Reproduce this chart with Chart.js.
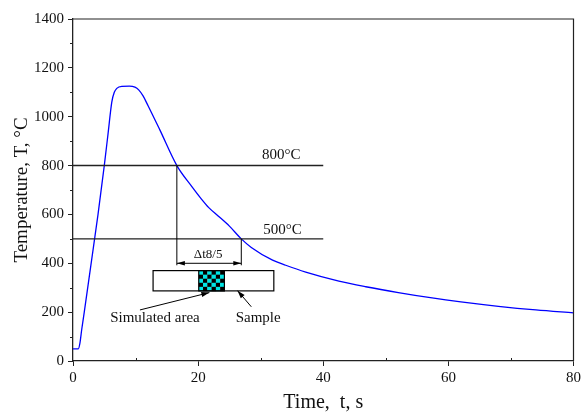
<!DOCTYPE html>
<html><head><meta charset="utf-8">
<script src="https://cdn.jsdelivr.net/npm/chart.js@4.4.0/dist/chart.umd.min.js"></script>
<style>html,body{margin:0;padding:0;background:#fff}</style>
</head><body>
<canvas id="c" width="584" height="420"></canvas>
<script>
// ---- data ----
const times = [0, 0.85, 1.1, 1.4, 1.8, 2.9, 4.0, 5.0, 5.6, 6.2, 6.6, 7.0, 7.8, 9.0, 9.9, 10.5, 11.2, 12.0, 13.9, 16.6, 19.0, 20.5, 21.7, 23.2, 25.0, 26.9, 28.5, 31.9, 34.0, 37.2, 42.5, 46.8, 52.0, 57.4, 62.0, 68.0, 74.0, 80.0];
const temps = [50, 50, 72, 130, 200, 400, 600, 800, 930, 1060, 1100, 1116, 1124, 1125, 1121, 1110, 1085, 1045, 945, 800, 714, 664, 628, 594, 552, 500, 465, 413, 392, 364, 327, 304, 280, 258, 242, 224, 209, 197];
const levels = [800, 500];
const levelLabels = ['800°C', '500°C'];
const crossTimes = [16.6, 26.9];
const deltaLabel = 'Δt8/5';
const sampleLabels = ['Simulated area', 'Sample'];

const FONT = "'Liberation Serif', 'Times New Roman', serif";

const annot = {
  id: 'annot',
  afterDatasetsDraw(chart) {
    const {ctx, scales: {x, y}, chartArea: a} = chart;
    const X = v => x.getPixelForValue(v), Y = v => y.getPixelForValue(v);
    ctx.save();
    // frame top & right
    ctx.strokeStyle = '#222'; ctx.lineWidth = 1.2;
    ctx.beginPath(); ctx.moveTo(a.left, a.top); ctx.lineTo(a.right, a.top); ctx.lineTo(a.right, a.bottom); ctx.stroke();
    // minor ticks
    ctx.lineWidth = 1;
    ctx.beginPath();
    for (let v = 100; v < 1400; v += 200) { const py = Math.round(Y(v)) + 0.5; ctx.moveTo(a.left - 3, py); ctx.lineTo(a.left, py); }
    for (let v = 10; v < 80; v += 20) { const px = Math.round(X(v)) + 0.5; ctx.moveTo(px, a.bottom); ctx.lineTo(px, a.bottom - 3); }
    ctx.stroke();

    // level lines
    ctx.strokeStyle = '#222'; ctx.lineWidth = 1.4;
    ctx.beginPath();
    levels.forEach(l => { ctx.moveTo(X(0), Y(l)); ctx.lineTo(X(40), Y(l)); });
    ctx.stroke();
    ctx.fillStyle = '#111';
    ctx.font = '15px ' + FONT; ctx.textAlign = 'center'; ctx.textBaseline = 'middle';
    ctx.fillText(levelLabels[0], X(33.3), Y(845));
    ctx.fillText(levelLabels[1], X(33.5), Y(535));

    // vertical lines to dimension
    const dimV = 400;
    ctx.lineWidth = 1; ctx.strokeStyle = '#000';
    ctx.beginPath();
    ctx.moveTo(X(crossTimes[0]), Y(levels[0])); ctx.lineTo(X(crossTimes[0]), Y(dimV) + 2);
    ctx.moveTo(X(crossTimes[1]), Y(levels[1])); ctx.lineTo(X(crossTimes[1]), Y(dimV) + 2);
    ctx.moveTo(X(crossTimes[0]), Y(dimV)); ctx.lineTo(X(crossTimes[1]), Y(dimV));
    ctx.stroke();
    function head(x1, y1, x2, y2, len, w) {
      const ang = Math.atan2(y2 - y1, x2 - x1);
      ctx.beginPath();
      ctx.moveTo(x2, y2);
      ctx.lineTo(x2 - len * Math.cos(ang) + w * Math.sin(ang), y2 - len * Math.sin(ang) - w * Math.cos(ang));
      ctx.lineTo(x2 - len * Math.cos(ang) - w * Math.sin(ang), y2 - len * Math.sin(ang) + w * Math.cos(ang));
      ctx.closePath(); ctx.fill();
    }
    ctx.fillStyle = '#000';
    head(X(crossTimes[1]), Y(dimV), X(crossTimes[0]), Y(dimV), 8, 2.2);
    head(X(crossTimes[0]), Y(dimV), X(crossTimes[1]), Y(dimV), 8, 2.2);
    ctx.font = '13px ' + FONT; ctx.fillStyle = '#111';
    ctx.fillText(deltaLabel, X(21.6), Y(436));

    // sample rectangle
    const rx0 = X(12.8), rx1 = X(32.1), ry0 = Y(370), ry1 = Y(287);
    ctx.fillStyle = '#fff';
    ctx.fillRect(rx0, ry0, rx1 - rx0, ry1 - ry0);
    // checker
    const cx0 = X(20.1), cx1 = X(24.2);
    const cols = 6, rows = 5;
    const cw = (cx1 - cx0) / cols, ch = (ry1 - ry0) / rows;
    for (let i = 0; i < cols; i++) for (let j = 0; j < rows; j++) {
      ctx.fillStyle = (i + j) % 2 === 0 ? '#00e5e5' : '#000';
      ctx.fillRect(cx0 + i * cw, ry0 + j * ch, cw + 0.3, ch + 0.3);
    }
    ctx.strokeStyle = '#000'; ctx.lineWidth = 1.2;
    ctx.strokeRect(cx0, ry0, cx1 - cx0, ry1 - ry0);
    ctx.strokeRect(rx0, ry0, rx1 - rx0, ry1 - ry0);

    // pointer arrows
    ctx.lineWidth = 1; ctx.fillStyle = '#000';
    const arrows = [[10.7, 209, 21.8, 280], [28.5, 222, 26.3, 288]];
    arrows.forEach(([a1, b1, a2, b2]) => {
      ctx.beginPath(); ctx.moveTo(X(a1), Y(b1)); ctx.lineTo(X(a2), Y(b2)); ctx.stroke();
      head(X(a1), Y(b1), X(a2), Y(b2), 8, 2.5);
    });
    ctx.font = '15px ' + FONT; ctx.fillStyle = '#111';
    ctx.fillText(sampleLabels[0], X(13.1), Y(176));
    ctx.fillText(sampleLabels[1], X(29.6), Y(176));
    ctx.restore();
  }
};

new Chart(document.getElementById('c'), {
  type: 'line',
  data: {
    datasets: [{
      data: times.map((t, i) => ({x: t, y: temps[i]})),
      borderColor: '#0000ff',
      borderWidth: 1.3,
      pointRadius: 0,
      fill: false,
      cubicInterpolationMode: 'monotone'
    }]
  },
  options: {
    responsive: false,
    animation: false,
    devicePixelRatio: 1,
    layout: {padding: {top: 19, right: 9, left: 0, bottom: 0}},
    plugins: {legend: {display: false}, tooltip: {enabled: false}},
    scales: {
      x: {
        type: 'linear', min: 0, max: 80,
        afterFit: s => { s.height = 59; },
        ticks: {stepSize: 20, color: '#111', font: {family: FONT, size: 15}, padding: 3, maxRotation: 0, callback: v => String(v)},
        grid: {display: true, drawOnChartArea: false, drawTicks: true, tickLength: 5, color: '#222', lineWidth: 1},
        border: {display: true, color: '#222', width: 1.3},
        title: {display: true, text: 'Time,  t, s', color: '#111', font: {family: FONT, size: 20}, padding: {top: 0, bottom: 5}}
      },
      y: {
        min: 0, max: 1400,
        afterFit: s => { s.width = 73; },
        ticks: {stepSize: 200, color: '#111', font: {family: FONT, size: 15}, padding: 4, callback: v => String(v)},
        grid: {display: true, drawOnChartArea: false, drawTicks: true, tickLength: 5, color: '#222', lineWidth: 1},
        border: {display: true, color: '#222', width: 1.3},
        title: {display: true, text: 'Temperature, T, °C', color: '#111', font: {family: FONT, size: 19}, padding: {top: 11, bottom: 0}}
      }
    }
  },
  plugins: [annot]
});
</script>
</body></html>
